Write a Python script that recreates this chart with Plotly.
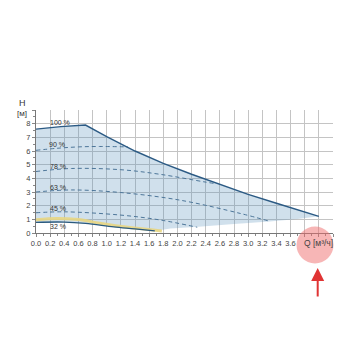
import plotly.graph_objects as go

# ---- data ----
q100 = [0, 0.35, 0.7, 1.0, 1.4, 1.8, 2.2, 2.6, 3.0, 3.4, 3.8, 4.0]
h100 = [7.6, 7.78, 7.9, 7.05, 6.0, 5.1, 4.3, 3.55, 2.83, 2.18, 1.55, 1.22]

q90 = [0, 0.3, 0.6, 0.9, 1.3]
h90 = [6.05, 6.2, 6.3, 6.33, 6.3]

q78 = [0, 0.5, 1.2, 1.76, 2.37, 2.55]
h78 = [4.5, 4.72, 4.63, 4.29, 3.75, 3.6]

q63 = [0, 0.5, 1.2, 2.04, 2.89, 3.31]
h63 = [3.0, 3.15, 2.96, 2.4, 1.43, 0.85]

q45 = [0, 0.4, 1.2, 1.76, 2.28]
h45 = [1.48, 1.55, 1.31, 0.95, 0.42]

q32 = [0, 0.4, 0.7, 1.1, 1.4, 1.68]
h32 = [0.78, 0.8, 0.7, 0.45, 0.3, 0.15]

qy = [0, 0.3, 0.6, 0.9, 1.3, 1.78]
hy = [0.97, 1.07, 0.98, 0.72, 0.42, 0.15]

q_low = [1.68, 1.9, 2.3, 2.8, 3.3, 3.7, 4.0]
h_low = [0.15, 0.33, 0.45, 0.65, 0.85, 1.02, 1.22]

pct_labels = ["100 %", "90 %", "78 %", "63 %", "45 %", "32 %"]
pct_x = [0.34, 0.30, 0.31, 0.31, 0.31, 0.31]
pct_y = [8.1, 6.45, 4.9, 3.35, 1.8, 0.45]

x_tickvals = [round(i * 0.2, 1) for i in range(22)]
x_ticktext = [f"{v:.1f}" if v <= 3.6 else "" for v in x_tickvals]
y_tickvals = list(range(10))
y_ticktext = [str(v) if v <= 8 else "" for v in y_tickvals]

FONT = "Liberation Sans"

# ---- figure ----
fig = go.Figure()

# shaded region: upper = 100 % curve, lower = 32 % curve + lower boundary
poly_x = q100 + q_low[::-1][1:] + q32[::-1]
poly_y = h100 + h_low[::-1][1:] + h32[::-1]
fig.add_trace(go.Scatter(x=poly_x, y=poly_y, fill="toself", mode="none",
                         fillcolor="rgba(80,140,185,0.27)", hoverinfo="skip"))

dash_col = "#4d7699"
for qx, hv in [(q90, h90), (q78, h78), (q63, h63), (q45, h45)]:
    fig.add_trace(go.Scatter(x=qx, y=hv, mode="lines", line_shape="spline",
                             line=dict(color=dash_col, width=1, dash="4px,3px")))

fig.add_trace(go.Scatter(x=qy, y=hy, mode="lines", line_shape="spline",
                         line=dict(color="rgba(232,214,130,0.9)", width=3)))
fig.add_trace(go.Scatter(x=q32, y=h32, mode="lines", line_shape="spline",
                         line=dict(color="#2b5a7e", width=1.3)))
fig.add_trace(go.Scatter(x=q100, y=h100, mode="lines", line_shape="linear",
                         line=dict(color="#2b5a84", width=1.4)))

annotations = []
for t, x, y in zip(pct_labels, pct_x, pct_y):
    annotations.append(dict(x=x, y=y, xref="x", yref="y", text=t, showarrow=False,
                            xanchor="center", yanchor="middle",
                            font=dict(size=7, color="#333", family=FONT)))

# axis titles (paper coords: plot spans px 36..333 horizontally, 233..110 vertically)
def px(x):
    return (x - 36) / 297

def py(y):
    return (233 - y) / 123

annotations.append(dict(x=px(22), y=py(103), xref="paper", yref="paper", text="H",
                        xanchor="center", yanchor="middle", showarrow=False,
                        font=dict(size=9, color="#333", family=FONT)))
annotations.append(dict(x=px(22), y=py(113.5), xref="paper", yref="paper", text="[м]",
                        xanchor="center", yanchor="middle", showarrow=False,
                        font=dict(size=8, color="#333", family=FONT)))

fig.update_layout(
    width=350, height=350, autosize=False,
    margin=dict(l=36, r=17, t=110, b=117),
    paper_bgcolor="white", plot_bgcolor="white",
    showlegend=False,
    xaxis=dict(range=[0, 4.2], tickvals=x_tickvals, ticktext=x_ticktext,
               showgrid=True, gridcolor="#c4c4c4", gridwidth=1,
               showline=True, linecolor="#777", linewidth=1, mirror=False,
               ticks="outside", ticklen=3, tickcolor="#888",
               minor=dict(dtick=0.1, ticks="outside", ticklen=2, tickcolor="#888", showgrid=False),
               tickfont=dict(size=7.5, color="#444", family=FONT),
               zeroline=False, fixedrange=True),
    yaxis=dict(range=[0, 9], tickvals=y_tickvals, ticktext=y_ticktext,
               showgrid=True, gridcolor="#c4c4c4", gridwidth=1,
               showline=True, linecolor="#777", linewidth=1,
               ticks="outside", ticklen=3, tickcolor="#888",
               minor=dict(dtick=0.5, ticks="outside", ticklen=2, tickcolor="#888", showgrid=False),
               tickfont=dict(size=7.5, color="#444", family=FONT),
               zeroline=False, fixedrange=True),
)

# highlight circle and arrow
fig.add_shape(type="circle", xref="paper", yref="paper",
              x0=px(296.5), x1=px(333.5), y0=py(263.5), y1=py(226.5),
              fillcolor="rgba(240,110,110,0.5)", line=dict(width=0), layer="above")
annotations.append(dict(x=px(318), y=py(243), xref="paper", yref="paper",
                        text="Q [м³/ч]", showarrow=False, xanchor="center", yanchor="middle",
                        font=dict(size=8.5, color="#444", family=FONT)))
annotations.append(dict(x=px(317.7), y=py(268), xref="paper", yref="paper",
                        text="", showarrow=True, ax=0, ay=30,
                        arrowhead=2, arrowsize=1.3, arrowwidth=2, arrowcolor="#e03434"))

fig.update_layout(annotations=annotations)
fig.write_html("out.html")
